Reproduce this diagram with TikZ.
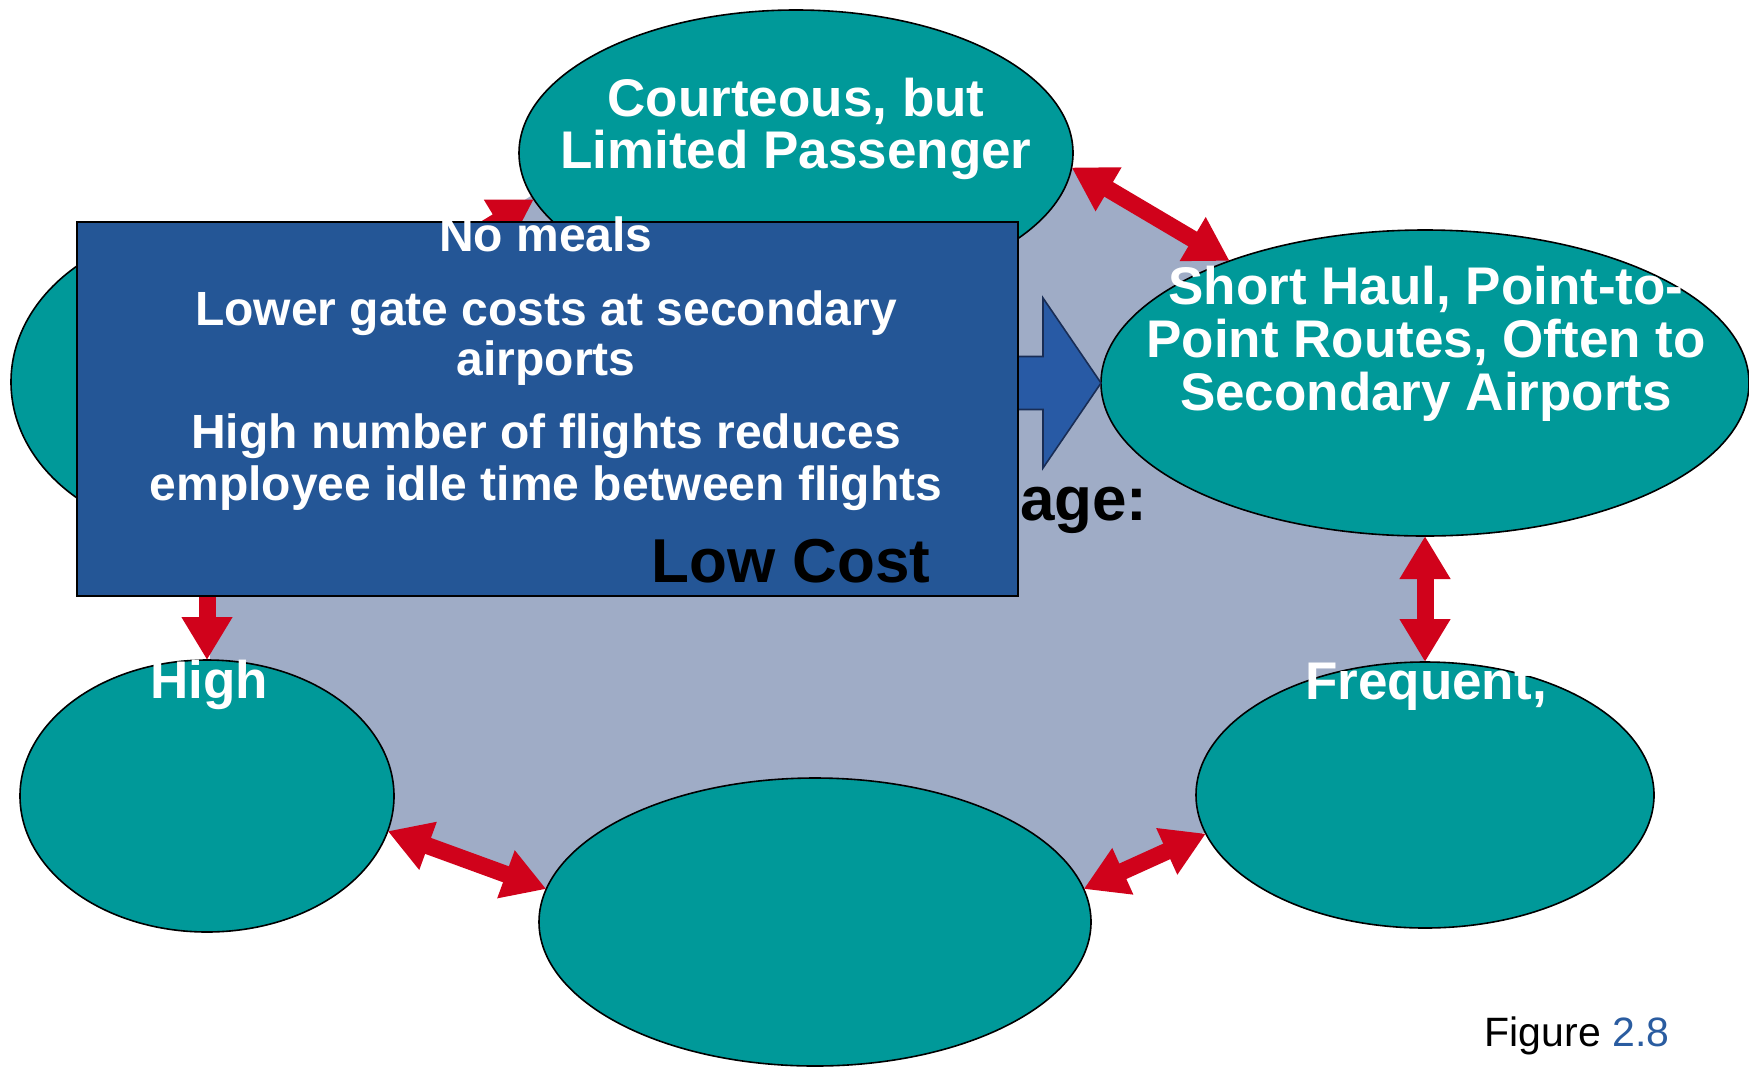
\documentclass[tikz,border=0pt]{standalone}
\usepackage{fontspec}
\setmainfont{Liberation Sans}
\usetikzlibrary{shapes.geometric,arrows.meta}
\definecolor{tealc}{RGB}{0,153,153}
\definecolor{grayc}{RGB}{159,172,198}
\definecolor{boxc}{RGB}{36,86,150}
\definecolor{bluec}{RGB}{40,90,165}
\definecolor{redc}{RGB}{208,2,27}
\definecolor{figblue}{RGB}{42,92,160}
\tikzset{
  oval/.style={ellipse, draw=black, line width=0.8pt, fill=tealc, inner sep=0pt, outer sep=0pt},
  wtext/.style={text=white, font=\fontsize{26.5pt}{26.5pt}\selectfont\bfseries, anchor=base, inner sep=0pt},
  btext/.style={text=white, font=\fontsize{24pt}{24pt}\selectfont\bfseries, anchor=base, inner sep=0pt},
  ktext/.style={text=black, font=\fontsize{31pt}{31pt}\selectfont\bfseries, anchor=base east, inner sep=0pt},
  redarrow/.style={draw=redc, line width=8.5pt, arrows={Triangle[length=21.5pt,width=24pt]-Triangle[length=21.5pt,width=24pt]}},
  boxst/.style={rectangle, draw=black, line width=1pt, fill=boxc, inner sep=0pt},
  bluearrowst/.style={fill=bluec, draw={rgb,255:red,25;green,45;blue,85}, line width=0.8pt, line join=miter}
}
\begin{document}
\begin{tikzpicture}[x=0.5pt,y=-0.5pt]
\useasboundingbox (0,0) rectangle (1749,1066);
% background polygon
\fill[grayc] (810,15) -- (1424,374) -- (1424,730) -- (845,1000) -- (210,765) -- (210,404) -- cycle;
% ellipses
\node[oval, minimum width=277pt, minimum height=143pt] (top) at (796,153) {};
\node[oval, minimum width=324pt, minimum height=153pt] (short) at (1425,383) {};
\node[oval, minimum width=229pt, minimum height=133pt] (freq) at (1425,795) {};
\node[oval, minimum width=276pt, minimum height=144pt] (bot) at (815,922) {};
\node[oval, minimum width=187pt, minimum height=136pt] (botl) at (207,796) {};
\node[oval, minimum width=196pt, minimum height=155pt] (lft) at (207,382) {};
% red double arrows
\draw[redarrow] (lft.27) -- (top.190);
\draw[redarrow] (top.-3) -- (short.148);
\draw[redarrow] (short.-90) -- (freq.90);
\draw[redarrow] (freq.190) -- (bot.7);
\draw[redarrow] (bot.173) -- (botl.-11);
\draw[redarrow] (botl.90) -- (lft.-90);
% blue arrow
\begin{scope}[shift={(short.west)}]
  \draw[bluearrowst] (0,0) -- (-58,-85) -- (-58,-26.5) -- (-130,-26.5) -- (-130,26.5) -- (-58,26.5) -- (-58,85) -- cycle;
\end{scope}
% partly hidden heading
\node[ktext] (adv) at (1148,520) {age:};
% box
\node[boxst, anchor=north west, minimum width=470.5pt, minimum height=187pt] (box) at (76,221) {};
\node[btext] (b1) at (546,251) {No meals};
\node[btext] (b2) at (546,325) {Lower gate costs at secondary};
\node[btext] (b3) at (546,375) {airports};
\node[btext] (b4) at (546,448) {High number of flights reduces};
\node[btext] (b5) at (546,500) {employee idle time between flights};
\node[ktext] (low) at (931,582) {Low Cost};
% ellipse texts
\node[wtext] (t1) at (796,116) {Courteous, but};
\node[wtext] (t2) at (796,168) {Limited Passenger};
\node[wtext] (s1) at (1426,304) {Short Haul, Point-to-};
\node[wtext] (s2) at (1426,357) {Point Routes, Often to};
\node[wtext] (s3) at (1426,410) {Secondary Airports};
\node[wtext] (h1) at (209,698) {High};
\node[wtext] (f1) at (1426,699) {Frequent,};
% figure label
\node[anchor=base, inner sep=0pt, font=\fontsize{20.5pt}{20.5pt}\selectfont] (fig) at (1577,1046) {Figure \textcolor{figblue}{2.8}};
\end{tikzpicture}
\end{document}
